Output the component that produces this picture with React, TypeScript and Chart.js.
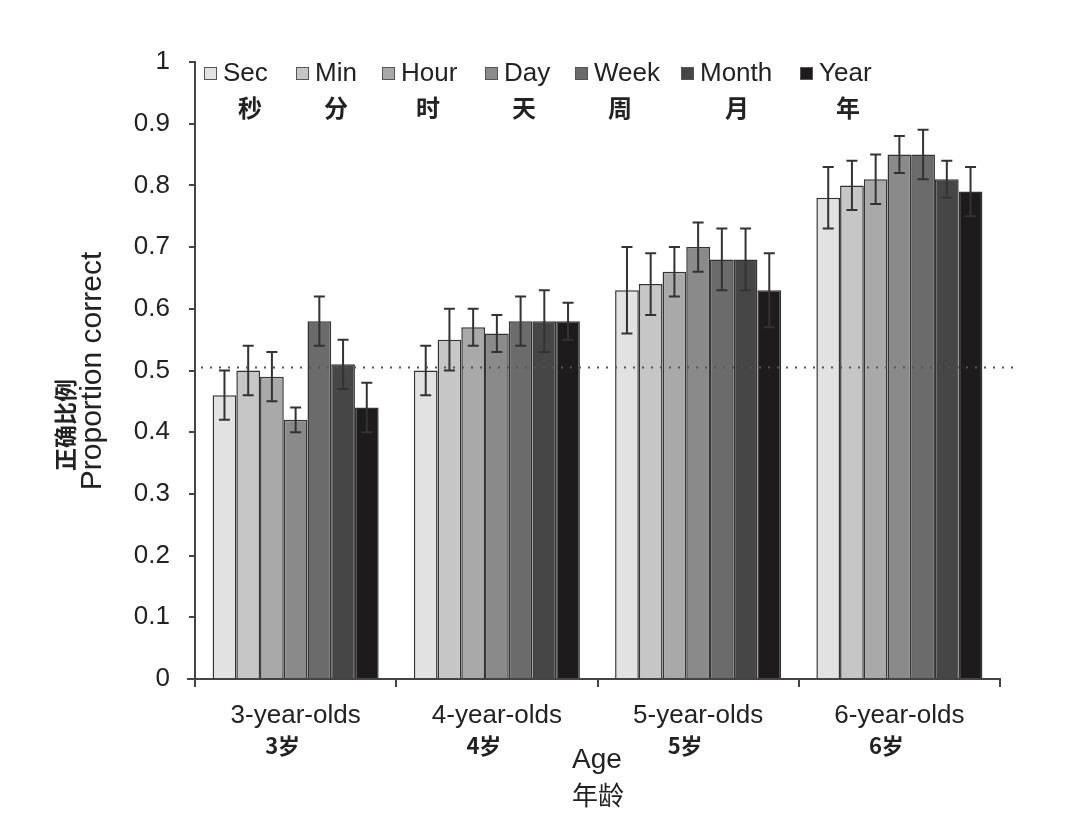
import React, { useEffect, useRef } from "react";
import { Chart, registerables } from "chart.js";

Chart.register(...registerables);

const categories = ["3-year-olds", "4-year-olds", "5-year-olds", "6-year-olds"];
const categoriesZh = ["3岁", "4岁", "5岁", "6岁"];
const seriesNames = ["Sec", "Min", "Hour", "Day", "Week", "Month", "Year"];
const seriesNamesZh = ["秒", "分", "时", "天", "周", "月", "年"];

const secValues = [0.46, 0.5, 0.63, 0.78];
const minValues = [0.5, 0.55, 0.64, 0.8];
const hourValues = [0.49, 0.57, 0.66, 0.81];
const dayValues = [0.42, 0.56, 0.7, 0.85];
const weekValues = [0.58, 0.58, 0.68, 0.85];
const monthValues = [0.51, 0.58, 0.68, 0.81];
const yearValues = [0.44, 0.58, 0.63, 0.79];

const secErr = [0.04, 0.04, 0.07, 0.05];
const minErr = [0.04, 0.05, 0.05, 0.04];
const hourErr = [0.04, 0.03, 0.04, 0.04];
const dayErr = [0.02, 0.03, 0.04, 0.03];
const weekErr = [0.04, 0.04, 0.05, 0.04];
const monthErr = [0.04, 0.05, 0.05, 0.03];
const yearErr = [0.04, 0.03, 0.06, 0.04];

const chanceLevel = 0.505;
const yTicks = [0, 0.1, 0.2, 0.3, 0.4, 0.5, 0.6, 0.7, 0.8, 0.9, 1];

const seriesValues = [secValues, minValues, hourValues, dayValues, weekValues, monthValues, yearValues];
const seriesErrors = [secErr, minErr, hourErr, dayErr, weekErr, monthErr, yearErr];
const colors = ["#e2e2e2", "#c6c6c6", "#a9a9a9", "#8a8a8a", "#6b6b6b", "#464646", "#1d1b1c"];

const LATIN = '"Liberation Sans", Arial, sans-serif';
const CJK = '"Noto Sans CJK SC", sans-serif';

// legend layout (pixel positions of items)
const legendBoxX = [204, 296, 382, 485, 575, 681, 800];
const legendZhX = [250, 336, 428, 524, 620, 737, 848];

const overlayPlugin = {
  id: "overlay",
  afterDatasetsDraw(chart: any) {
    const ctx = chart.ctx;
    const y = chart.scales.y;
    const x = chart.scales.x;
    const area = chart.chartArea;
    ctx.save();
    // error bars
    ctx.strokeStyle = "#333";
    ctx.lineWidth = 2;
    chart.data.datasets.forEach((ds: any, di: number) => {
      const meta = chart.getDatasetMeta(di);
      meta.data.forEach((bar: any, i: number) => {
        const v = ds.data[i];
        const e = seriesErrors[di][i];
        const yt = y.getPixelForValue(v + e);
        const yb = y.getPixelForValue(v - e);
        const cx = bar.x;
        ctx.beginPath();
        ctx.moveTo(cx, yt);
        ctx.lineTo(cx, yb);
        ctx.moveTo(cx - 5.5, yt);
        ctx.lineTo(cx + 5.5, yt);
        ctx.moveTo(cx - 5.5, yb);
        ctx.lineTo(cx + 5.5, yb);
        ctx.stroke();
      });
    });
    // chance line
    const yc = y.getPixelForValue(chanceLevel);
    ctx.strokeStyle = "#555";
    ctx.lineWidth = 2;
    ctx.setLineDash([2, 7]);
    ctx.beginPath();
    ctx.moveTo(area.left + 6, yc);
    ctx.lineTo(area.right + 17, yc);
    ctx.stroke();
    ctx.setLineDash([]);

    // legend
    ctx.textBaseline = "middle";
    seriesNames.forEach((name, i) => {
      const bx = legendBoxX[i];
      ctx.fillStyle = colors[i];
      ctx.fillRect(bx, 67, 13, 13);
      ctx.strokeStyle = "#555";
      ctx.lineWidth = 1;
      ctx.strokeRect(bx + 0.5, 67.5, 12, 12);
      ctx.fillStyle = "#222";
      ctx.font = `26px ${LATIN}`;
      ctx.textAlign = "left";
      ctx.fillText(name, bx + 19, 74);
      ctx.font = `bold 24px ${CJK}`;
      ctx.textAlign = "center";
      ctx.fillText(seriesNamesZh[i], legendZhX[i], 108);
    });

    // x labels
    categories.forEach((c, i) => {
      const cx = x.getPixelForValue(i);
      ctx.fillStyle = "#222";
      ctx.font = `26px ${LATIN}`;
      ctx.textAlign = "center";
      ctx.fillText(c, cx, 716);
      ctx.font = `bold 22px ${CJK}`;
      ctx.fillText(categoriesZh[i], cx - 13, 746);
    });
    // x title
    ctx.font = `28px ${LATIN}`;
    ctx.fillText("Age", 597, 760);
    ctx.font = `26px ${CJK}`;
    ctx.fillText("年龄", 598, 795);

    // y title
    ctx.save();
    ctx.translate(93, 371);
    ctx.rotate(-Math.PI / 2);
    ctx.font = `30px ${LATIN}`;
    ctx.fillText("Proportion correct", 0, 0);
    ctx.restore();
    ctx.save();
    ctx.translate(65, 425);
    ctx.rotate(-Math.PI / 2);
    ctx.font = `bold 23px ${CJK}`;
    ctx.fillText("正确比例", 0, 0);
    ctx.restore();

    // extend x axis line left
    ctx.strokeStyle = "#444";
    ctx.lineWidth = 2;
    ctx.beginPath();
    ctx.moveTo(187, area.bottom);
    ctx.lineTo(area.left, area.bottom);
    ctx.stroke();
    ctx.restore();
  },
};

export default function App() {
  const ref = useRef<HTMLCanvasElement>(null);
  useEffect(() => {
    if (!ref.current) return;
    const chart = new Chart(ref.current, {
      type: "bar",
      data: {
        labels: categories,
        datasets: seriesNames.map((n, i) => ({
          label: n,
          data: seriesValues[i],
          backgroundColor: colors[i],
          borderColor: "#333",
          borderWidth: 1.5,
          barPercentage: 1,
          categoryPercentage: 0.825,
        })),
      },
      options: {
        responsive: false,
        animation: false,
        layout: { padding: { left: 0, right: 80, top: 62, bottom: 0 } },
        plugins: { legend: { display: false }, tooltip: { enabled: false } },
        scales: {
          x: {
            grid: {
              offset: true,
              drawOnChartArea: false,
              drawTicks: true,
              tickLength: 8,
              color: "#444",
              lineWidth: 2,
            },
            border: { color: "#444", width: 2 },
            ticks: { callback: () => "", font: { size: 1 } },
            afterFit: (s: any) => {
              s.height = 828 - 679;
            },
          },
          y: {
            min: 0,
            max: 1,
            afterBuildTicks: (s: any) => {
              s.ticks = yTicks.map((v) => ({ value: v }));
            },
            ticks: {
              callback: (v: any) => String(Math.round(Number(v) * 10) / 10),
              font: { size: 26, family: LATIN },
              color: "#222",
              padding: 19,
            },
            grid: {
              drawOnChartArea: false,
              drawTicks: true,
              tickLength: 6,
              color: "#444",
              lineWidth: 2,
            },
            border: { color: "#444", width: 2 },
            afterFit: (s: any) => {
              s.width = 195;
            },
          },
        },
      },
      plugins: [overlayPlugin],
    });
    return () => chart.destroy();
  }, []);
  return (
    <div style={{ position: "absolute", left: 0, top: 0, width: 1080, height: 828, background: "#fff" }}>
      <canvas ref={ref} width={1080} height={828} />
    </div>
  );
}
